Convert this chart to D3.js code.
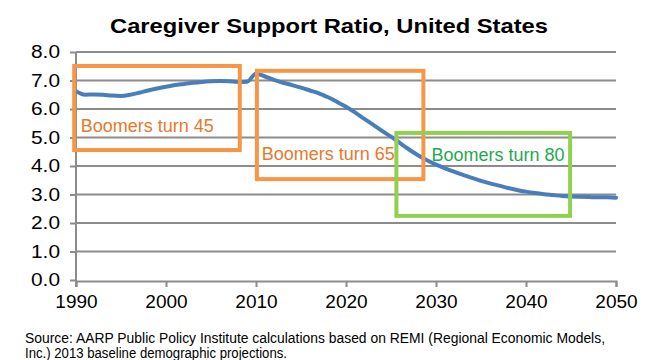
<!DOCTYPE html>
<html><head><meta charset="utf-8">
<script src="https://cdn.jsdelivr.net/npm/d3@7"></script>
<style>html,body{margin:0;padding:0;background:#fff;}svg{display:block;}</style>
</head><body>
<svg id="c" width="650" height="360"></svg>
<script>
const years = [1990,1991,1992,1993,1994,1995,1996,1997,1998,1999,2000,2001,2002,2003,2004,2005,2006,2007,2008,2009,2010,2011,2012,2013,2014,2015,2016,2017,2018,2019,2020,2021,2022,2023,2024,2025,2026,2027,2028,2029,2030,2031,2032,2033,2034,2035,2036,2037,2038,2039,2040,2041,2042,2043,2044,2045,2046,2047,2048,2049,2050];
const ratio = [6.62,6.5,6.51,6.5,6.47,6.46,6.5,6.57,6.65,6.72,6.78,6.84,6.88,6.92,6.95,6.97,6.98,6.97,6.95,6.96,7.24,7.14,7.02,6.92,6.84,6.75,6.65,6.55,6.41,6.25,6.08,5.88,5.66,5.45,5.23,5.03,4.8,4.58,4.38,4.2,4.05,3.92,3.8,3.69,3.58,3.48,3.39,3.31,3.23,3.16,3.1,3.05,3.01,2.98,2.95,2.93,2.92,2.91,2.9,2.9,2.89];
const yTicks = [0,1,2,3,4,5,6,7,8];
const xTicks = [1990,2000,2010,2020,2030,2040,2050];
const boxLabels = ["Boomers turn 45","Boomers turn 65","Boomers turn 80"];
const boxStart = [1989.8,2010.1,2025.6];
const boxEnd = [2008.2,2028.6,2044.9];
const boxTop = [7.51,7.34,5.16];
const boxBottom = [4.56,3.54,2.25];
const boxColors = ["#f79646","#f79646","#92d050"];
const boxTextColors = ["#e8782a","#e8782a","#1fa84f"];
const title = "Caregiver Support Ratio, United States";
const source = ["Source: AARP Public Policy Institute calculations based on REMI (Regional Economic Models,","Inc.) 2013 baseline demographic projections."];

const svg = d3.select("#c");
const x = d3.scaleLinear().domain([1990,2050]).range([76,616]);
const y = d3.scaleLinear().domain([0,8]).range([280,52]);
const font = "'Liberation Sans', Arial, sans-serif";

svg.append("text").attr("x",110).attr("y",32.5).attr("font-family",font)
  .attr("font-weight","bold").attr("font-size",20.5).attr("textLength",438)
  .attr("lengthAdjust","spacingAndGlyphs").attr("fill","#000").text(title);

// gridlines + y axis
const yAxis = d3.axisLeft(y).tickValues(yTicks).tickFormat(d3.format(".1f")).tickSize(6).tickPadding(10);
const gy = svg.append("g").attr("transform","translate(76,0)").call(yAxis);
gy.select(".domain").remove();
gy.selectAll(".tick line").attr("stroke","#8c8c8c").attr("stroke-width",2).attr("x2",-6);
gy.selectAll(".tick text").attr("font-family",font).attr("font-size",17.5).attr("fill","#000")
  .attr("textLength",29).attr("lengthAdjust","spacingAndGlyphs");
svg.append("g").selectAll("line").data(yTicks.filter(d=>d>0)).join("line")
  .attr("x1",76).attr("x2",616).attr("y1",d=>y(d)).attr("y2",d=>y(d))
  .attr("stroke","#8c8c8c").attr("stroke-width",1.8);

const xAxis = d3.axisBottom(x).tickValues(xTicks).tickFormat(d3.format("d")).tickSize(6).tickPadding(8);
const gx = svg.append("g").attr("transform","translate(0,281)").call(xAxis);
gx.select(".domain").attr("stroke","#8c8c8c").attr("stroke-width",2);
gx.selectAll(".tick line").attr("stroke","#8c8c8c").attr("stroke-width",2);
gx.selectAll(".tick text").attr("font-family",font).attr("font-size",19).attr("fill","#000");
svg.append("line").attr("x1",76).attr("x2",76).attr("y1",y(8)).attr("y2",287)
  .attr("stroke","#8c8c8c").attr("stroke-width",2);

// line
const line = d3.line().x((d,i)=>x(years[i])).y(d=>y(d)).curve(d3.curveMonotoneX);
svg.append("path").datum(ratio).attr("d",line).attr("fill","none")
  .attr("stroke","#4a7ebb").attr("stroke-width",4).attr("stroke-linecap","round");

// boxes
boxLabels.forEach((lab,i)=>{
  svg.append("rect").attr("x",x(boxStart[i])).attr("y",y(boxTop[i]))
    .attr("width",x(boxEnd[i])-x(boxStart[i])).attr("height",y(boxBottom[i])-y(boxTop[i]))
    .attr("fill","none").attr("stroke",boxColors[i]).attr("stroke-width",4);
});
const labX = [80.7,261.7,431.5];
const labY = [131.7,160,160.7];
boxLabels.forEach((lab,i)=>{
  svg.append("text").attr("x",labX[i]).attr("y",labY[i]).attr("font-family",font)
    .attr("font-size",17.5).attr("fill",boxTextColors[i]).attr("textLength",133)
    .attr("lengthAdjust","spacingAndGlyphs").text(lab);
});

// source
svg.append("text").attr("x",25).attr("y",343).attr("font-family",font).attr("font-size",14)
  .attr("fill","#000").attr("textLength",580).attr("lengthAdjust","spacingAndGlyphs").text(source[0]);
svg.append("text").attr("x",25).attr("y",358).attr("font-family",font).attr("font-size",14)
  .attr("fill","#000").attr("textLength",262).attr("lengthAdjust","spacingAndGlyphs").text(source[1]);
</script>
</body></html>
